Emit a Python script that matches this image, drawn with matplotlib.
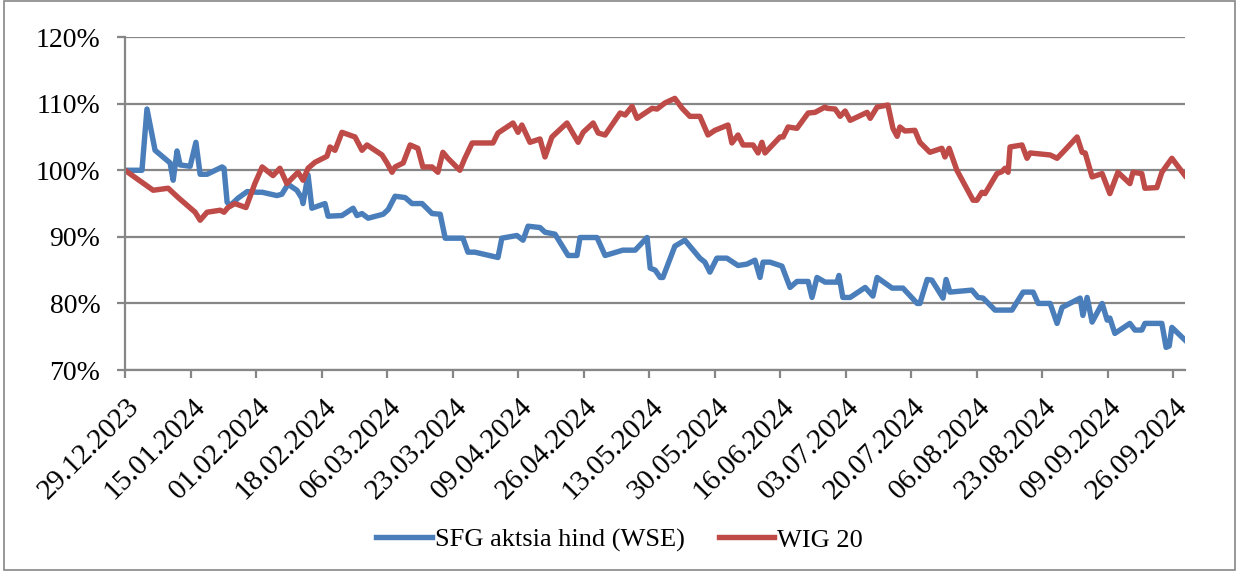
import numpy as np
import pandas as pd
import matplotlib
matplotlib.use("Agg")
import matplotlib.pyplot as plt
from matplotlib.patches import Rectangle
from matplotlib.ticker import FuncFormatter, FixedLocator
from matplotlib.transforms import ScaledTranslation
import matplotlib.dates as mdates

start = pd.Timestamp("2023-12-29")

# days after 29.12.2023 and value in %
sfg_day = [0, 4.4, 5.7, 7.8, 11.7, 12.5, 13.5, 14.3, 16.9, 18.4, 19.5, 21.3, 25.2, 25.7, 26.5,
           27.3, 29.3, 31.7, 34.3, 35.6, 39.4, 40.7, 42.3, 44.6, 45.9, 46.2, 47.5, 48.5, 51.9,
           52.7, 56.3, 59.2, 60.2, 61.5, 63.1, 67.0, 68.3, 70.1, 72.7, 74.5, 77.1, 79.7, 81.8,
           83.1, 87.7, 89.0, 90.8, 96.8, 97.8, 101.7, 103.3, 104.6, 107.7, 109.0, 111.6, 115.0,
           117.3, 118.1, 122.5, 124.6, 129.2, 132.4, 135.5, 136.3, 137.6, 138.9, 139.6, 142.7,
           145.3, 149.2, 150.5, 151.8, 153.6, 156.2, 159.1, 161.4, 163.5, 164.8, 165.6, 167.4,
           170.5, 172.6, 174.4, 177.3, 178.3, 179.6, 181.7, 184.8, 185.3, 186.3, 188.2, 192.1,
           194.1, 195.2, 199.1, 201.9, 205.6, 206.3, 208.2, 209.4, 212.3, 213.1, 214.1, 219.8,
           221.4, 222.7, 225.8, 230.2, 233.1, 235.7, 237.0, 240.1, 241.9, 243.2, 247.9, 248.6,
           249.7, 251.0, 253.6, 254.9, 255.6, 256.9, 260.8, 262.1, 263.9, 264.7, 269.1, 270.2,
           271.0, 271.7, 275.1]
sfg_val = [100, 100, 109.2, 103.0, 101.1, 98.5, 102.9, 100.8, 100.6, 104.2, 99.4, 99.4, 100.5,
           100.3, 95.2, 94.7, 95.8, 96.8, 96.7, 96.7, 96.2, 96.4, 97.9, 97.0, 95.8, 95.0, 99.3,
           94.3, 95.0, 93.1, 93.2, 94.3, 93.2, 93.5, 92.8, 93.4, 94.1, 96.1, 95.9, 95.0, 95.0,
           93.5, 93.4, 89.8, 89.8, 87.7, 87.7, 86.9, 89.8, 90.2, 89.5, 91.6, 91.4, 90.7, 90.4,
           87.2, 87.2, 89.9, 89.9, 87.2, 88.0, 88.0, 89.9, 85.3, 85.0, 83.9, 83.9, 88.6, 89.5,
           86.8, 86.2, 84.7, 86.8, 86.8, 85.7, 85.9, 86.5, 83.9, 86.2, 86.2, 85.6, 82.4, 83.3,
           83.3, 80.9, 83.9, 83.2, 83.2, 84.2, 80.9, 80.9, 82.4, 81.1, 83.9, 82.3, 82.3, 80.0,
           80.0, 83.6, 83.5, 80.8, 83.6, 81.7, 82.0, 80.9, 80.8, 79.0, 79.0, 81.7, 81.7, 80.0,
           80.0, 77.0, 79.4, 80.8, 78.2, 80.9, 77.2, 80.0, 77.5, 77.8, 75.5, 77.0, 76.0, 76.0,
           77.0, 77.0, 73.4, 73.6, 76.4, 74.5]

wig_day = [0, 7.3, 11.2, 13.8, 18.2, 19.5, 21.3, 24.7, 25.7, 26.7, 28.5, 31.4, 33.7, 35.6, 38.4,
           40.2, 42.0, 44.9, 46.2, 47.5, 49.3, 52.4, 53.2, 54.5, 56.3, 59.7, 61.5, 62.8, 64.9,
           66.7, 68.0, 69.3, 70.1, 72.2, 74.0, 76.0, 77.3, 79.7, 81.2, 82.5, 83.8, 86.9, 88.2,
           90.1, 95.5, 96.8, 100.7, 102.0, 103.0, 105.1, 107.7, 109.0, 110.8, 114.7, 117.6, 118.9,
           121.5, 122.8, 124.6, 128.5, 129.8, 131.6, 132.9, 135.0, 136.8, 138.1, 140.1, 142.7,
           144.6, 146.6, 149.2, 151.3, 153.1, 156.5, 157.5, 159.1, 160.4, 163.0, 164.3, 165.3,
           166.1, 170.0, 170.8, 172.1, 174.4, 177.3, 179.1, 181.7, 182.2, 184.3, 185.6, 186.9,
           188.2, 192.6, 193.4, 195.2, 198.0, 199.3, 200.4, 201.1, 202.4, 205.0, 206.3, 208.9,
           212.0, 212.8, 213.9, 215.9, 220.1, 221.1, 222.4, 223.2, 226.3, 227.6, 228.4, 229.2,
           229.7, 232.8, 234.1, 234.9, 240.1, 241.9, 243.4, 247.1, 248.4, 249.2, 251.0, 253.6,
           255.6, 257.7, 260.8, 261.6, 263.9, 264.7, 267.8, 269.1, 271.7, 275.1]
wig_val = [100, 97.0, 97.3, 95.9, 93.7, 92.5, 93.7, 94.0, 93.7, 94.4, 95.0, 94.4, 98.0, 100.5,
           99.2, 100.3, 98.0, 99.7, 98.5, 100.3, 101.2, 102.1, 103.5, 103.0, 105.7, 105.0, 103.0,
           103.8, 103.0, 102.3, 101.1, 99.7, 100.5, 101.1, 103.8, 103.3, 100.5, 100.5, 99.7,
           102.7, 101.8, 100.0, 101.8, 104.1, 104.1, 105.6, 107.1, 105.7, 106.8, 104.2, 104.7,
           102.0, 105.0, 107.1, 104.2, 105.7, 107.1, 105.6, 105.3, 108.6, 108.3, 109.6, 107.8,
           108.6, 109.3, 109.2, 110.1, 110.8, 109.3, 108.1, 108.1, 105.3, 106.0, 106.8, 104.1,
           105.3, 103.8, 103.8, 102.6, 104.2, 102.6, 105.0, 105.0, 106.5, 106.3, 108.6, 108.7,
           109.5, 109.3, 109.2, 108.1, 108.9, 107.5, 108.7, 107.8, 109.5, 109.8, 106.3, 105.1,
           106.5, 105.9, 106.0, 104.2, 102.7, 103.3, 102.0, 103.3, 100.0, 95.5, 95.5, 96.7, 96.5,
           99.5, 99.8, 100.3, 99.7, 103.5, 103.8, 101.8, 102.6, 102.3, 101.8, 102.7, 105.0,
           102.7, 102.6, 99.0, 99.5, 96.5, 99.7, 98.0, 99.7, 99.5, 97.3, 97.4, 99.7, 101.8, 99.2]

y_ticks = [70, 80, 90, 100, 110, 120]
tick_dates = pd.date_range(start, "2024-09-26", freq="17D")

sfg_dates = start + pd.to_timedelta(sfg_day, unit="D")
wig_dates = start + pd.to_timedelta(wig_day, unit="D")

plt.rcParams["font.family"] = ["Liberation Serif", "DejaVu Serif"]
grey = "#868686"

fig = plt.figure(figsize=(12.39, 5.71), dpi=100)
ax = fig.add_axes([0.1009, 0.352, 0.8555, 0.583])

ax.plot(sfg_dates, sfg_val, color="#4A7EBB", lw=3.9, label="SFG aktsia hind (WSE)",
        solid_joinstyle="round")
ax.plot(wig_dates, wig_val, color="#BE4B48", lw=3.9, label="WIG 20", solid_joinstyle="round")

ax.set_ylim(70, 120)
ax.set_xlim(start, start + pd.Timedelta(days=275.1))
ax.yaxis.set_major_locator(FixedLocator(y_ticks))
ax.yaxis.set_major_formatter(FuncFormatter(lambda v, p: f"{v:.0f}%"))
ax.set_xticks(tick_dates)
ax.xaxis.set_major_formatter(mdates.DateFormatter("%d.%m.%Y"))

ax.grid(axis="y", color=grey, lw=1.6)
ax.set_axisbelow(True)
for s in ["top", "right"]:
    ax.spines[s].set_visible(False)
for s in ["left", "bottom"]:
    ax.spines[s].set_color(grey)
    ax.spines[s].set_linewidth(1.6)
ax.tick_params(axis="both", colors=grey, labelcolor="black", width=1.6, length=5.8)
ax.tick_params(axis="y", pad=12, labelsize=20)
ax.tick_params(axis="x", pad=11, labelsize=21)
shift = ScaledTranslation(1 / 100, 0, fig.dpi_scale_trans)
for lab in ax.get_xticklabels():
    lab.set_rotation(45)
    lab.set_ha("right")
    lab.set_va("top")
    lab.set_rotation_mode("anchor")
    lab.set_transform(lab.get_transform() + shift)

fig.legend(loc="center", bbox_to_anchor=(0.5, 0.054), ncol=2, frameon=False,
           fontsize=19, handlelength=2.1, columnspacing=1.3, handletextpad=0.1)

fig.patches.append(Rectangle((0.003, 0.002), 0.994, 0.996, transform=fig.transFigure,
                             fill=False, edgecolor=grey, lw=1.2))

fig.savefig("out.png", dpi=100)
